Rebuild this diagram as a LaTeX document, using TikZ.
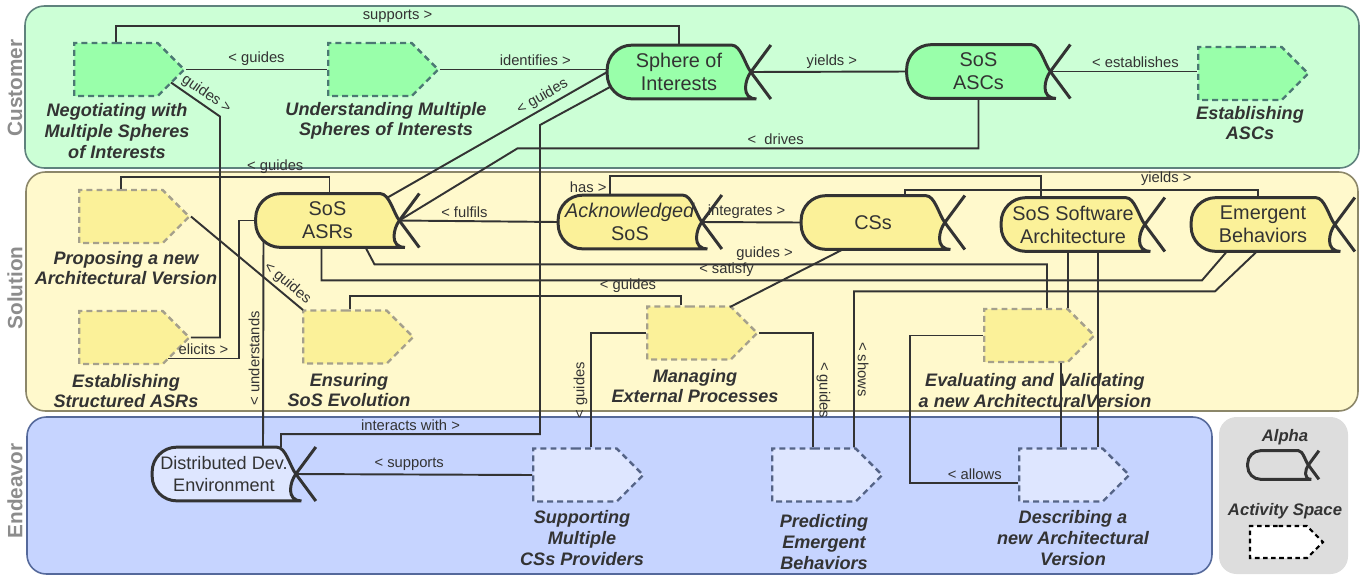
\documentclass[tikz,border=0pt]{standalone}
\usepackage{fontspec}
\setmainfont{Liberation Sans}
\usepackage{xcolor}
\usetikzlibrary{positioning,
        shapes.symbols,
        calc}

\definecolor{ink}{RGB}{51,51,51}
\definecolor{lanegray}{RGB}{140,140,140}
\definecolor{custbg}{RGB}{204,255,214}
\definecolor{custact}{RGB}{153,255,170}
\definecolor{custline}{RGB}{95,130,125}
\definecolor{custdash}{RGB}{75,120,115}
\definecolor{solbg}{RGB}{255,249,204}
\definecolor{solact}{RGB}{251,241,153}
\definecolor{solline}{RGB}{140,135,105}
\definecolor{soldash}{RGB}{165,160,140}
\definecolor{endbg}{RGB}{198,212,255}
\definecolor{endact}{RGB}{222,230,255}
\definecolor{endline}{RGB}{85,105,155}
\definecolor{enddash}{RGB}{85,100,135}
\definecolor{legbg}{RGB}{221,221,221}

\pgfdeclarelayer{back}
\pgfsetlayers{back,main}

% alpha outline: round left end, crossed right end
\newcommand\alphaframe[3][1]{%
  \begin{pgfonlayer}{back}
    \filldraw[alphaline, fill=#3] ($(#2.north east)+(-19*#1,0)$)
      [rounded corners=#1*14pt] -- (#2.north west) -- (#2.south west) -- ($(#2.south east)+(-19*#1,0)$)
      [sharp corners] .. controls ($(#2.south east)+(-10*#1,0)$) and ($(#2.east)+(-6*#1,8*#1)$) .. (#2.east)
      .. controls ($(#2.east)+(-6*#1,-8*#1)$) and ($(#2.north east)+(-10*#1,0)$) .. ($(#2.north east)+(-19*#1,0)$) -- cycle;
    \draw[alphaline] (#2.east) -- +(20*#1,27*#1) (#2.east) -- +(20*#1,-27*#1);
  \end{pgfonlayer}}

\begin{document}
\begin{tikzpicture}[x=0.02cm, y=-0.02cm,
        conn/.style={draw=ink, line width=1.1pt},
        lbl/.style={text=ink, inner sep=1.5pt, font=\fontsize{8.4}{9.5}\selectfont},
        alpha/.style={minimum width=2.86cm, minimum height=1.06cm, inner sep=0pt, align=center,
                text=ink, font=\fontsize{11.3}{13}\selectfont},
        alphaline/.style={draw=ink, line width=1.7pt},
        activity/.style={signal, signal to=east, signal pointer angle=90, minimum width=2.2cm,
                minimum height=1.06cm, inner sep=0pt, dash pattern=on 3.4pt off 2.3pt, line width=1.4pt},
        actlabel/.style={align=center, text=ink, font=\bfseries\itshape\fontsize{10.3}{11.7}\selectfont},
        lane/.style={rounded corners=11pt, line width=0.9pt},
        lanename/.style={rotate=90, text=lanegray, font=\bfseries\fontsize{11.8}{12}\selectfont}]

        \useasboundingbox (0,0) rectangle (1367,576);

        \begin{pgfonlayer}{back}
        \draw[lane, draw=custline, fill=custbg] (25,6) rectangle (1359,168);
        \draw[lane, draw=solline, fill=solbg] (26,172) rectangle (1358,411);
        \draw[lane, draw=endline, fill=endbg] (27,417) rectangle (1212,574);
        \fill[rounded corners=10pt, fill=legbg] (1219,417) rectangle (1348,574);
        \end{pgfonlayer}

        \node [lanename] (cust) at (15,88) {Customer};
        \node [lanename] (sol) at (15,288) {Solution};
        \node [lanename] (endv) at (15,491) {Endeavor};

        % customer
        \node [activity, fill=custact, draw=custdash] (neg) at (116,69.5) {};
        \node [activity, fill=custact, draw=custdash] (und) at (370,69.5) {};
        \node [activity, fill=custact, draw=custdash] (estascs) at (1240,73.5) {};
        \node [alpha] (soi) at (679,72) {Sphere of\\Interests};
        \node [alpha] (ascs) at (978.5,71.5) {SoS\\ASCs};
        \alphaframe{soi}{custact}
        \alphaframe{ascs}{custact}

        \node [actlabel] (negl) at (117,131) {Negotiating with\\Multiple Spheres\\of Interests};
        \node [actlabel] (undl) at (386,121) {Understanding Multiple\\Spheres of Interests};
        \node [actlabel] (estascsl) at (1250,123) {Establishing\\ASCs};

        % solution
        \node [activity, fill=solact, draw=soldash] (propose) at (121,216.5) {};
        \node [activity, fill=solact, draw=soldash] (estasr) at (121,337.5) {};
        \node [activity, fill=solact, draw=soldash] (ensure) at (345,337) {};
        \node [activity, fill=solact, draw=soldash] (manage) at (689,333) {};
        \node [activity, fill=solact, draw=soldash] (evalv) at (1026,335.5) {};
        \node [alpha] (sosasrs) at (327.5,220.5) {SoS\\ASRs};
        \node [alpha] (acksos) at (630,222) {\textit{Acknowledged}\\SoS};
        \node [alpha] (css) at (873,222.5) {CSs};
        \node [alpha] (sossa) at (1073,224.5) {SoS Software\\Architecture};
        \node [alpha] (emb) at (1263,224.5) {Emergent\\Behaviors};
        \alphaframe{sosasrs}{solact}
        \alphaframe{acksos}{solact}
        \alphaframe{css}{solact}
        \alphaframe{sossa}{solact}
        \alphaframe{emb}{solact}

        \node [actlabel] (proposel) at (126,268) {Proposing a new\\Architectural Version};
        \node [actlabel] (estasrl) at (126,391) {Establishing\\Structured ASRs};
        \node [actlabel] (ensurel) at (349,390) {Ensuring\\SoS Evolution};
        \node [actlabel] (managel) at (695,386) {Managing\\External Processes};
        \node [actlabel] (evalvl) at (1035,390.5) {Evaluating and Validating\\a new ArchitecturalVersion};

        % endeavor
        \node [activity, fill=endact, draw=enddash] (supp) at (575,475) {};
        \node [activity, fill=endact, draw=enddash] (pred) at (814,475) {};
        \node [activity, fill=endact, draw=enddash] (desc) at (1061,475) {};
        \node [alpha, font=\fontsize{10.3}{12}\selectfont] (dde) at (224,474) {Distributed Dev.\\Environment};
        \alphaframe{dde}{endact}

        \node [actlabel] (suppl) at (582,538) {Supporting\\Multiple\\CSs Providers};
        \node [actlabel] (predl) at (824,542) {Predicting\\Emergent\\Behaviors};
        \node [actlabel] (descl) at (1073,538) {Describing a\\new Architectural\\Version};

        % legend
        \node [actlabel, font=\bfseries\itshape\fontsize{9.5}{11}\selectfont] (legalphal) at (1285,437) {Alpha};
        \node [alpha, minimum width=1.2cm, minimum height=0.56cm] (legalpha) at (1278,465) {};
        \alphaframe[0.53]{legalpha}{legbg}
        \node [actlabel, font=\bfseries\itshape\fontsize{9.5}{11}\selectfont] (legactl) at (1285,511) {Activity Space};
        \node [activity, minimum width=1.46cm, minimum height=0.64cm, fill=white, draw=black,
                dash pattern=on 2.6pt off 2pt, line width=1.2pt] (legact) at (1278.5,542) {};

        % connectors
        \draw[conn] (neg.north) -- ++(0,-16) -| node[lbl, above, pos=0.25] (l1) {supports >} (soi.north);
        \draw[conn] (neg.east) -- node[lbl, above] (l2) {< guides} (und.west);
        \draw[conn] (und.east) -- node[lbl, above, pos=0.57] (l3) {identifies >} (und.east -| soi.west);
        \draw[conn] (soi.east) -- node[lbl, above, pos=0.52] (l4) {yields >} (ascs.west);
        \draw[conn] (ascs.east) -- node[lbl, above, pos=0.58] (l5) {< establishes} (ascs.east -| estascs.west);
        \draw[conn] ($(neg.center)+(55,13)$) -- node[lbl, sloped, above, pos=0.6] (l6) {guides >} ++(49,34) |- (estasr.east);
        \draw[conn] ($(estasr.center)+(47,21)$) -- node[lbl, above] (l7) {elicits >} ++(71,0) |- (sosasrs.west);
        \draw[conn] (soi.west) -- node[lbl, sloped, above, pos=0.27] (l8) {< guides} ($(sosasrs.north east)+(-12,4)$);
        \draw[conn] ($(soi.center)+(-69,15)$) -- ++(-70,38) |- node[lbl, above, pos=0.75] (l9) {interacts with >} ($(dde.north)+(57,-13)$) -- ($(dde.north)+(57,0)$);
        \draw[conn] (ascs.south) -- ++(0,50) -- node[lbl, above, pos=0.44] (l10) {<\ \ drives} ++(-461,0) -- (sosasrs.east);

        \draw[conn] (propose.north) -- ++(0,-12) -| node[lbl, above, pos=0.37] (l11) {< guides} ($(sosasrs.north)+(2,0)$);
        \draw[conn] (propose.east) -- node[lbl, sloped, above, pos=0.8] (l12) {< guides} ($(ensure.center)+(-42,-27)$);
        \draw[conn] (acksos.west) -- node[lbl, above, pos=0.59] (l13) {< fulfils} (sosasrs.east);
        \draw[conn] ($(acksos.north)+(-20,0)$) -- node[lbl, left, pos=0.4] (l14) {has >} ++(0,-19) -| ($(sossa.north)+(-32,0)$);
        \draw[conn] (acksos.east) -- node[lbl, above, pos=0.45] (l15) {integrates >} (css.west);
        \draw[conn] ($(css.north)+(32,0)$) -- ++(0,-6) -| node[lbl, above, pos=0.37] (l16) {yields >} ($(emb.north)+(-5,0)$);
        \draw[conn] ($(sosasrs.south)+(38,0)$) -- ++(9,17) -| node[lbl, above, pos=0.29] (l17) {guides >} ($(evalv.north)+(21,0)$);
        \draw[conn] ($(sosasrs.south)+(-6,0)$) |- node[lbl, above, pos=0.73] (l18) {< satisfy} ($(emb.south)+(-61,29)$) -- ($(emb.south)+(-36,0)$);
        \draw[conn] ($(emb.south)+(-6,0)$) -- ++(-42,40) -| node[lbl, rotate=-90, above, pos=0.75] (l19) {< shows} ($(pred.north)+(40,0)$);
        \draw[conn] (manage.west) -| node[lbl, rotate=90, above, pos=0.75] (l20) {< guides} ($(supp.north)+(16,0)$);
        \draw[conn] (manage.east) -| node[lbl, rotate=-90, above, pos=0.75] (l21) {< guides} ($(pred.north)+(-1,0)$);
        \draw[conn] ($(css.south)+(-30,0)$) -- ($(manage.center)+(41,-26)$);
        \draw[conn] ($(manage.north)+(-8,0)$) -- ++(0,-9) -| node[lbl, above, pos=0.08] (l23) {< guides} ($(ensure.north)+(5,0)$);
        \draw[conn] ($(sossa.south)+(-5,0)$) -- ($(evalv.north)+(42,0)$);
        \draw[conn] ($(sossa.south)+(25,0)$) -- ($(desc.north)+(37,0)$);
        \draw[conn] ($(evalv.south)+(35,0)$) -- (desc.north);
        \draw[conn] (evalv.west) -- ++(-73,0) |- node[lbl, above, pos=0.8] (l27) {< allows} ($(desc.west)+(0,8)$);
        \draw[conn] ($(sosasrs.south)+(-64,-7)$) -- node[lbl, rotate=90, above, pos=0.57] (l28) {< understands} ($(dde.north)+(39,0)$);
        \draw[conn] (supp.west) -- node[lbl, above, pos=0.52] (l29) {< supports} (dde.east);
\end{tikzpicture}
\end{document}
